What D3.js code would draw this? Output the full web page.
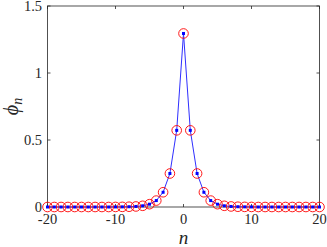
<!DOCTYPE html>
<html>
<head>
<meta charset="utf-8">
<script src="https://cdn.jsdelivr.net/npm/d3@7"></script>
<style>
  body { margin: 0; background: #fff; }
  text { font-family: "Liberation Serif", "Times New Roman", serif; fill: #262626; }
</style>
</head>
<body>
<div id="canvas"></div>
<script>
"use strict"

/* data */
let nValues = d3.range(-20, 21);
let halfProfile = [1.295, 0.572, 0.25, 0.11, 0.048, 0.021, 0.009, 0.004, 0.002, 0.001, 0.0005,
    0, 0, 0, 0, 0, 0, 0, 0, 0, 0]; // phi at |n| = 0..20
let phiValues = nValues.map(n => halfProfile[Math.abs(n)]);
let xTicks = [-20, -10, 0, 10, 20];
let yTicks = [0, 0.5, 1, 1.5];

let svgWidth = 327;
let svgHeight = 247;
let plot = { left: 47.5, right: 319.5, top: 6, bottom: 207 };

let svg = d3.select("#canvas")
    .append("svg")
    .attr("width", svgWidth)
    .attr("height", svgHeight);

let xScale = d3.scaleLinear()
    .domain([-20, 20])
    .range([plot.left, plot.right]);

let yScale = d3.scaleLinear()
    .domain([0, 1.5])
    .range([plot.bottom, plot.top]);

let dataset = nValues.map((n, i) => ({ n: n, phi: phiValues[i] }));

/* box */
svg.append("rect")
    .attr("x", plot.left)
    .attr("y", plot.top)
    .attr("width", plot.right - plot.left)
    .attr("height", plot.bottom - plot.top)
    .attr("fill", "none")
    .attr("stroke", "#262626")
    .attr("stroke-width", 0.8);

/* ticks inside, on all four sides */
let tickLen = 3;
xTicks.forEach(function (t) {
    svg.append("line")
        .attr("x1", xScale(t)).attr("x2", xScale(t))
        .attr("y1", plot.bottom).attr("y2", plot.bottom - tickLen)
        .attr("stroke", "#262626").attr("stroke-width", 0.8);
    svg.append("line")
        .attr("x1", xScale(t)).attr("x2", xScale(t))
        .attr("y1", plot.top).attr("y2", plot.top + tickLen)
        .attr("stroke", "#262626").attr("stroke-width", 0.8);
    svg.append("text")
        .attr("x", xScale(t))
        .attr("y", plot.bottom + 16.5)
        .attr("text-anchor", "middle")
        .style("font-size", "14.5px")
        .text(t);
});

yTicks.forEach(function (t) {
    svg.append("line")
        .attr("x1", plot.left).attr("x2", plot.left + tickLen)
        .attr("y1", yScale(t)).attr("y2", yScale(t))
        .attr("stroke", "#262626").attr("stroke-width", 0.8);
    svg.append("line")
        .attr("x1", plot.right).attr("x2", plot.right - tickLen)
        .attr("y1", yScale(t)).attr("y2", yScale(t))
        .attr("stroke", "#262626").attr("stroke-width", 0.8);
    svg.append("text")
        .attr("x", plot.left - 5.5)
        .attr("y", yScale(t) + 4.5)
        .attr("text-anchor", "end")
        .style("font-size", "14.5px")
        .text(t);
});

/* blue line with dots */
let line = d3.line()
    .x(d => xScale(d.n))
    .y(d => yScale(d.phi));

svg.append("path")
    .datum(dataset)
    .attr("d", line)
    .attr("fill", "none")
    .attr("stroke", "#2f2fff")
    .attr("stroke-width", 1);

/* red open circles */
svg.selectAll("circle.ring")
    .data(dataset)
    .join("circle")
    .attr("class", "ring")
    .attr("cx", d => xScale(d.n))
    .attr("cy", d => yScale(d.phi))
    .attr("r", 4.8)
    .attr("fill", "none")
    .attr("stroke", "#ff0000")
    .attr("stroke-width", 0.9);

svg.selectAll("rect.dot")
    .data(dataset)
    .join("rect")
    .attr("class", "dot")
    .attr("x", d => xScale(d.n) - 1.5)
    .attr("y", d => yScale(d.phi) - 1.5)
    .attr("width", 3)
    .attr("height", 3)
    .attr("fill", "#0000ff");

/* axis labels */
svg.append("text")
    .attr("x", xScale(0))
    .attr("y", 244)
    .attr("text-anchor", "middle")
    .style("font-size", "19px")
    .style("font-style", "italic")
    .text("n");

let yLabel = svg.append("text")
    .attr("transform", "translate(18," + ((plot.top + plot.bottom) / 2) + ") rotate(-90)")
    .attr("text-anchor", "middle")
    .style("font-size", "20px")
    .style("font-style", "italic");
yLabel.append("tspan").text("\u03d5");
yLabel.append("tspan")
    .attr("dy", 4)
    .style("font-size", "14px")
    .text("n");
</script>
</body>
</html>
